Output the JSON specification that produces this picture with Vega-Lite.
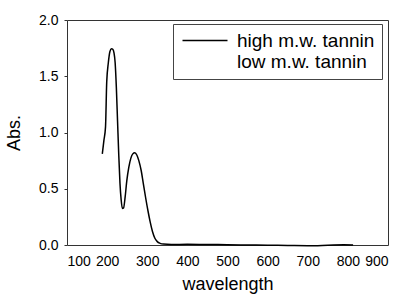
{
  "$schema": "https://vega.github.io/schema/vega-lite/v6.json",
  "autosize": "none",
  "width": 321,
  "height": 225,
  "padding": {"left": 67, "top": 20, "right": 15, "bottom": 49},
  "background": "white",
  "config": {
    "font": "Liberation Sans",
    "view": {"stroke": "#333", "strokeWidth": 1},
    "axis": {"grid": false, "domain": false, "tickColor": "#333", "tickSize": 3, "labelColor": "black", "titleColor": "black", "labelFont": "Liberation Sans", "titleFont": "Liberation Sans", "titleFontWeight": "normal"}
  },
  "data": {
    "values": [
      {"series": "high m.w. tannin", "wl": 188, "abs": 0.81},
      {"series": "high m.w. tannin", "wl": 192, "abs": 0.93},
      {"series": "high m.w. tannin", "wl": 196, "abs": 1.05},
      {"series": "high m.w. tannin", "wl": 199, "abs": 1.45},
      {"series": "high m.w. tannin", "wl": 203, "abs": 1.62},
      {"series": "high m.w. tannin", "wl": 207, "abs": 1.72},
      {"series": "high m.w. tannin", "wl": 211, "abs": 1.745},
      {"series": "high m.w. tannin", "wl": 214, "abs": 1.74},
      {"series": "high m.w. tannin", "wl": 217, "abs": 1.71},
      {"series": "high m.w. tannin", "wl": 220, "abs": 1.62},
      {"series": "high m.w. tannin", "wl": 223, "abs": 1.4},
      {"series": "high m.w. tannin", "wl": 226, "abs": 1.1},
      {"series": "high m.w. tannin", "wl": 229, "abs": 0.8},
      {"series": "high m.w. tannin", "wl": 232, "abs": 0.55},
      {"series": "high m.w. tannin", "wl": 235, "abs": 0.4},
      {"series": "high m.w. tannin", "wl": 238, "abs": 0.325},
      {"series": "high m.w. tannin", "wl": 241, "abs": 0.33},
      {"series": "high m.w. tannin", "wl": 245, "abs": 0.43},
      {"series": "high m.w. tannin", "wl": 249, "abs": 0.57},
      {"series": "high m.w. tannin", "wl": 254, "abs": 0.69},
      {"series": "high m.w. tannin", "wl": 259, "abs": 0.77},
      {"series": "high m.w. tannin", "wl": 264, "abs": 0.81},
      {"series": "high m.w. tannin", "wl": 269, "abs": 0.82},
      {"series": "high m.w. tannin", "wl": 274, "abs": 0.8},
      {"series": "high m.w. tannin", "wl": 279, "abs": 0.75},
      {"series": "high m.w. tannin", "wl": 285, "abs": 0.66},
      {"series": "high m.w. tannin", "wl": 290, "abs": 0.55},
      {"series": "high m.w. tannin", "wl": 296, "abs": 0.42},
      {"series": "high m.w. tannin", "wl": 302, "abs": 0.3},
      {"series": "high m.w. tannin", "wl": 307, "abs": 0.21},
      {"series": "high m.w. tannin", "wl": 313, "abs": 0.12},
      {"series": "high m.w. tannin", "wl": 319, "abs": 0.06},
      {"series": "high m.w. tannin", "wl": 325, "abs": 0.03},
      {"series": "high m.w. tannin", "wl": 332, "abs": 0.015},
      {"series": "high m.w. tannin", "wl": 340, "abs": 0.008},
      {"series": "high m.w. tannin", "wl": 360, "abs": 0.005},
      {"series": "high m.w. tannin", "wl": 400, "abs": 0.006},
      {"series": "high m.w. tannin", "wl": 450, "abs": 0.004},
      {"series": "high m.w. tannin", "wl": 500, "abs": 0.003},
      {"series": "high m.w. tannin", "wl": 550, "abs": 0.0},
      {"series": "high m.w. tannin", "wl": 600, "abs": -0.002},
      {"series": "high m.w. tannin", "wl": 650, "abs": -0.004},
      {"series": "high m.w. tannin", "wl": 700, "abs": -0.006},
      {"series": "high m.w. tannin", "wl": 750, "abs": -0.002},
      {"series": "high m.w. tannin", "wl": 790, "abs": 0.002},
      {"series": "high m.w. tannin", "wl": 813, "abs": 0.0}
    ]
  },
  "mark": {"type": "line", "strokeWidth": 1.5, "interpolate": "monotone"},
  "encoding": {
    "x": {"field": "wl", "type": "quantitative", "title": "wavelength",
      "scale": {"domain": [100, 900], "nice": false, "zero": false},
      "axis": {"values": [100, 200, 300, 400, 500, 600, 700, 800, 900], "labelFontSize": 14, "titleFontSize": 18, "labelPadding": 9, "titlePadding": 7, "ticks": false}},
    "y": {"field": "abs", "type": "quantitative", "title": "Abs.",
      "scale": {"domain": [0, 2], "nice": false},
      "axis": {"values": [0, 0.5, 1, 1.5, 2], "format": ".1f", "labelFontSize": 14, "titleFontSize": 18, "labelPadding": 6, "titlePadding": 15}},
    "color": {"field": "series", "type": "nominal",
      "scale": {"domain": ["high m.w. tannin", "low m.w. tannin"], "range": ["black", "white"]},
      "legend": {"title": null, "orient": "none", "legendX": 106, "legendY": 4,
        "symbolType": "M-1.4,0H7.6", "symbolSize": 100, "symbolStrokeWidth": 1.3,
        "labelFontSize": 19, "labelColor": "black", "labelOffset": 38, "labelLimit": 300,
        "strokeColor": "#444", "padding": 7, "rowPadding": 1}}
  }
}
